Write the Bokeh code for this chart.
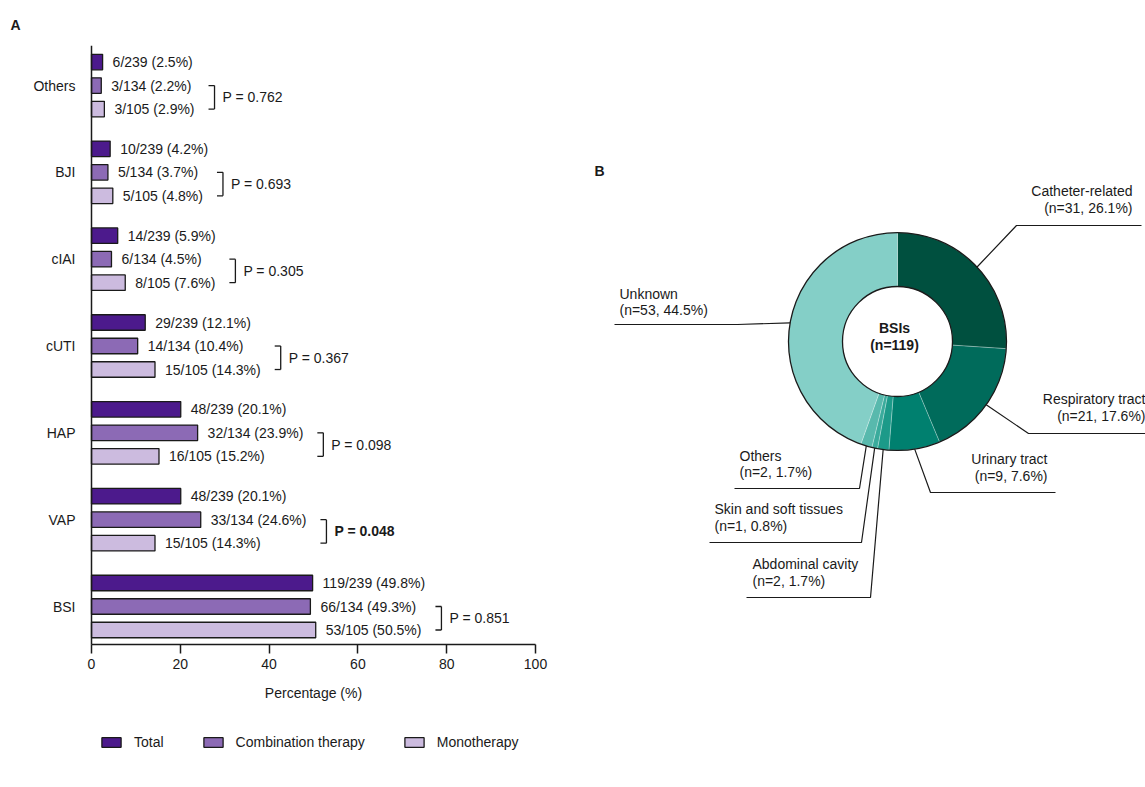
import math
from bokeh.plotting import figure
from bokeh.models import Range1d, FixedTicker, Legend, LegendItem, ColumnDataSource, LinearAxis
from bokeh.layouts import row
from bokeh.embed import file_html
from bokeh.resources import INLINE
from bokeh.core.properties import value

# ---------------- data ----------------
categories = ["Others", "BJI", "cIAI", "cUTI", "HAP", "VAP", "BSI"]
total_n = [6, 10, 14, 29, 48, 48, 119]
total_pct = [2.5, 4.2, 5.9, 12.1, 20.1, 20.1, 49.8]
comb_n = [3, 5, 6, 14, 32, 33, 66]
comb_pct = [2.2, 3.7, 4.5, 10.4, 23.9, 24.6, 49.3]
mono_n = [3, 5, 8, 15, 16, 15, 53]
mono_pct = [2.9, 4.8, 7.6, 14.3, 15.2, 14.3, 50.5]
p_values = ["0.762", "0.693", "0.305", "0.367", "0.098", "0.048", "0.851"]
p_significant = [False, False, False, False, False, True, False]
group_names = ["Total", "Combination therapy", "Monotherapy"]
group_totals = [239, 134, 105]
x_ticks = [0, 20, 40, 60, 80, 100]
x_title = "Percentage (%)"

bsi_sources = ["Catheter-related", "Respiratory tract", "Urinary tract",
               "Abdominal cavity", "Skin and soft tissues", "Others", "Unknown"]
bsi_n = [31, 21, 9, 2, 1, 2, 53]
bsi_pct = [26.1, 17.6, 7.6, 1.7, 0.8, 1.7, 44.5]
bsi_total = 119

# ---------------- style ----------------
FONT = "Liberation Sans"
FS = "14px"
TXT = "#1a1a1a"
bar_colors = ["#4C1A8C", "#8C6AB5", "#CCBBDF"]
donut_colors = ["#00503F", "#006B5B", "#00806F", "#1C9A89", "#3AAB9C", "#58B9AD", "#84CFC7"]

ARIAL = {c: 0.556 for c in "0123456789"}
ARIAL.update({"/": 0.278, " ": 0.278, "(": 0.333, ")": 0.333, ".": 0.278, "%": 0.889})


def text_px(s, size=14):
    return sum(ARIAL.get(c, 0.55) for c in s) * size


TOP, BOTTOM = 45, 36          # shared top / bottom borders of both panels
FH = 787 - TOP - BOTTOM       # frame height
AXIS_Y_PX = 644 - TOP         # x-axis line, pixels below the frame top

# ================= Panel A =================
LEFT = 86                      # left border of panel A
PAD_L = 5                      # frame pixels left of the value 0
PW = 575                       # width of panel A
PX = 4.44                      # pixels per percent
UNIT_PX = 86.83                # pixels per category step
OFF = 23.5 / UNIT_PX           # offset between bars in a group
BAR_H = 15.5 / UNIT_PX
Y_TOP = 6.461                              # data value at the frame top
Y_AXIS = Y_TOP - AXIS_Y_PX / UNIT_PX       # data value where the x axis sits
Y_BOT = Y_TOP - FH / UNIT_PX
X0 = -PAD_L / PX
X1 = X0 + (PW - LEFT) / PX

p = figure(frame_width=PW - LEFT, frame_height=FH, x_range=Range1d(X0, X1), y_range=Range1d(Y_BOT, Y_TOP),
           output_backend="svg", toolbar_location=None, title="A",
           min_border_left=LEFT, min_border_right=0, min_border_top=TOP, min_border_bottom=BOTTOM)
p.grid.visible = False
p.outline_line_color = None
p.background_fill_color = "white"
p.border_fill_color = "white"
p.title.text_font = FONT
p.title.text_font_size = FS
p.title.text_font_style = "bold"
p.title.text_color = TXT
p.title.align = "left"
p.title.offset = 10 - LEFT
p.title.standoff = 26

ncat = len(categories)
ypos = [ncat - 1 - i for i in range(ncat)]

series = [(total_n, total_pct, OFF), (comb_n, comb_pct, 0.0), (mono_n, mono_pct, -OFF)]
renderers = []
for (ns, pcts, off), col, tot in zip(series, bar_colors, group_totals):
    src = ColumnDataSource(dict(
        y=[y + off for y in ypos], right=pcts,
        lx=[v + 10.0 / PX for v in pcts],
        label=[f"{n}/{tot} ({v}%)" for n, v in zip(ns, pcts)]))
    r = p.hbar(y="y", left=0, right="right", height=BAR_H, source=src,
               fill_color=col, line_color="#1a1a1a", line_width=1.3)
    p.text(x="lx", y="y", text="label", source=src, text_font=value(FONT),
           text_font_size=FS, text_baseline="middle", text_align="left", text_color=TXT)
    renderers.append(r)

# brackets with P values
bx0, bx1, by0, by1 = [], [], [], []
ptx, pty, ptxt, ptx_b, pty_b, ptxt_b = [], [], [], [], [], []
for i in range(ncat):
    y_c = ypos[i]
    y_m = ypos[i] - OFF
    ends = []
    for ns, pcts, tot in [(comb_n, comb_pct, 134), (mono_n, mono_pct, 105)]:
        lab = f"{ns[i]}/{tot} ({pcts[i]}%)"
        ends.append(pcts[i] * PX + 10 + text_px(lab))
    xl_px = max(ends) + 20
    xl = xl_px / PX
    tick = 6.0 / PX
    bx0 += [xl, xl - tick, xl - tick]
    bx1 += [xl, xl, xl]
    by0 += [y_c, y_c, y_m]
    by1 += [y_m, y_c, y_m]
    label = f"P = {p_values[i]}"
    if p_significant[i]:
        ptx_b.append(xl + 8.0 / PX); pty_b.append((y_c + y_m) / 2); ptxt_b.append(label)
    else:
        ptx.append(xl + 8.0 / PX); pty.append((y_c + y_m) / 2); ptxt.append(label)

p.segment(x0=bx0, y0=by0, x1=bx1, y1=by1, line_color="#1a1a1a", line_width=1.3)
p.text(x=ptx, y=pty, text=ptxt, text_font=value(FONT), text_font_size=FS,
       text_baseline="middle", text_align="left", text_color=TXT)
p.text(x=ptx_b, y=pty_b, text=ptxt_b, text_font=value(FONT), text_font_size=FS,
       text_font_style="bold", text_baseline="middle", text_align="left", text_color=TXT)

# y axis carrying the category labels (its own line hidden)
ya = p.yaxis[0]
ya.ticker = FixedTicker(ticks=ypos)
ya.major_label_overrides = {y: c for y, c in zip(ypos, categories)}
ya.major_tick_line_color = None
ya.major_tick_out = 0
ya.major_tick_in = 0
ya.minor_tick_line_color = None
ya.major_label_standoff = 11
ya.axis_line_color = None
ya.major_label_text_font = FONT
ya.major_label_text_font_size = FS
ya.major_label_text_color = TXT

# y axis line drawn at x = 0
ya_line = LinearAxis(fixed_location=0, ticker=FixedTicker(ticks=[]), bounds=(Y_AXIS, Y_TOP),
                     axis_line_width=1.5, axis_line_color="#1a1a1a",
                     major_tick_line_color=None, minor_tick_line_color=None,
                     major_label_text_font_size="0px")
p.add_layout(ya_line, "left")

xa = p.xaxis[0]
xa.fixed_location = Y_AXIS
xa.bounds = (0, 100)
xa.ticker = FixedTicker(ticks=x_ticks)
xa.major_tick_in = 0
xa.major_tick_out = 9
xa.minor_tick_line_color = None
xa.major_tick_line_width = 1.5
xa.axis_line_width = 1.5
xa.axis_line_color = "#1a1a1a"
xa.major_tick_line_color = "#1a1a1a"
xa.major_label_standoff = 5
xa.major_label_text_font = FONT
xa.major_label_text_font_size = FS
xa.major_label_text_color = TXT

# axis title (kept inside the frame so that the legend below it can be drawn)
p.text(x=[50], y=[Y_AXIS - 48 / UNIT_PX], text=[x_title], text_font=value(FONT), text_font_size=FS,
       text_align="center", text_baseline="middle", text_color=TXT)

legend = Legend(items=[LegendItem(label=n, renderers=[r]) for n, r in zip(group_names, renderers)],
                location=(99 - LEFT, 1), orientation="horizontal", padding=0, margin=0, spacing=37,
                border_line_color=None, background_fill_alpha=0,
                glyph_width=24, glyph_height=12, label_standoff=11, label_height=12,
                label_text_font=FONT, label_text_font_size=FS, label_text_color=TXT)
p.add_layout(legend)

# ================= Panel B =================
QW = 570
CX = 322                      # donut centre, pixels from the left edge of panel B
CY_TOP = 341 - TOP            # donut centre, pixels below the top of panel B's frame
q = figure(frame_width=QW, frame_height=FH, x_range=Range1d(-CX, QW - CX),
           y_range=Range1d(CY_TOP - FH, CY_TOP),
           output_backend="svg", toolbar_location=None, x_axis_type=None, y_axis_type=None,
           min_border_left=0, min_border_right=0, min_border_top=TOP, min_border_bottom=BOTTOM)
q.grid.visible = False
q.outline_line_color = None
q.background_fill_color = "white"
q.border_fill_color = "white"

R_OUT, R_IN = 109, 55
cum = [0.0]
for v in bsi_n:
    cum.append(cum[-1] + v / bsi_total)
start = [math.pi / 2 - 2 * math.pi * cum[i + 1] for i in range(len(bsi_n))]
end = [math.pi / 2 - 2 * math.pi * cum[i] for i in range(len(bsi_n))]
mid = [math.pi / 2 - 2 * math.pi * (cum[i] + cum[i + 1]) / 2 for i in range(len(bsi_n))]

q.annular_wedge(x=0, y=0, inner_radius=R_IN, outer_radius=R_OUT, start_angle=start, end_angle=end,
                fill_color=donut_colors, line_color="#ffffff", line_alpha=0.45, line_width=0.6)
q.circle(x=[0, 0], y=[0, 0], radius=[R_OUT, R_IN], fill_color=None, line_color="#1a1a1a", line_width=1.3)

q.text(x=[-3, -3], y=[14, -3], text=["BSIs", f"(n={bsi_total})"], text_font=value(FONT),
       text_font_size=FS, text_font_style="bold", text_align="center", text_baseline="middle",
       text_color=TXT)

# label layout: elbow, end of leader, text anchor, alignment
label_layout = [
    dict(elbow=(119, 116), end=(244, 116), tx=235, ty=(151, 134), align="right"),
    dict(elbow=(131, -92), end=(249, -92), tx=248, ty=(-57, -74), align="right"),
    dict(elbow=(33, -151), end=(158, -151), tx=150, ty=(-117, -134), align="right"),
    dict(elbow=(-27, -256), end=(-151, -256), tx=-145, ty=(-222, -239), align="left"),
    dict(elbow=(-36, -201), end=(-188, -201), tx=-183, ty=(-167, -184), align="left"),
    dict(elbow=(-38, -147), end=(-163, -147), tx=-158, ty=(-114, -130), align="left"),
    dict(elbow=(-160, 17), end=(-283, 17), tx=-278, ty=(48, 32), align="left"),
]
xs, ys = [], []
for a, lay in zip(mid, label_layout):
    sx, sy = R_OUT * math.cos(a), R_OUT * math.sin(a)
    xs.append([sx, lay["elbow"][0], lay["end"][0]])
    ys.append([sy, lay["elbow"][1], lay["end"][1]])
q.multi_line(xs=xs, ys=ys, line_color="#1a1a1a", line_width=1.2)

for align in ("left", "right"):
    tx, ty, tt = [], [], []
    for name, n, pc, lay in zip(bsi_sources, bsi_n, bsi_pct, label_layout):
        if lay["align"] != align:
            continue
        tx += [lay["tx"], lay["tx"]]
        ty += [lay["ty"][0], lay["ty"][1]]
        tt += [name, f"(n={n}, {pc}%)"]
    q.text(x=tx, y=ty, text=tt, text_font=value(FONT), text_font_size=FS, text_align=align,
           text_baseline="middle", text_color=TXT)

q.text(x=[-303], y=[171], text=["B"], text_font=value(FONT), text_font_size=FS,
       text_font_style="bold", text_align="left", text_baseline="middle", text_color=TXT)

layout = row(p, q)
open("out.html", "w").write(file_html(layout, INLINE))
